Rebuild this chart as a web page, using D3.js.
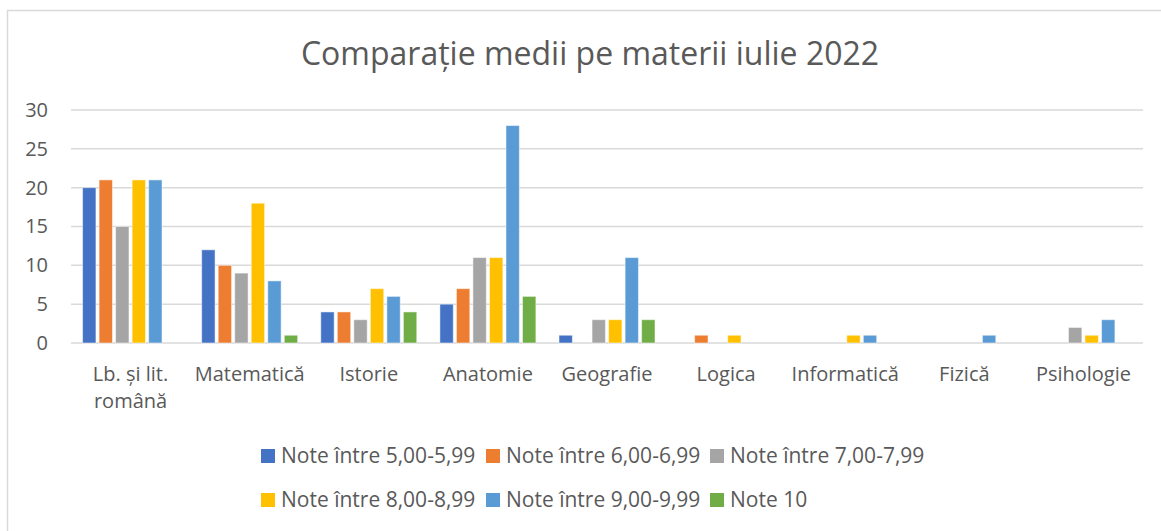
<!DOCTYPE html>
<html>
<head>
<meta charset="utf-8">
<script src="https://cdn.jsdelivr.net/npm/d3@7"></script>
<style>
  body { margin: 0; background: #fff; }
  text { font-family: "Open Sans", sans-serif; fill: #595959; }
</style>
</head>
<body>
<div id="chart"></div>
<script>
const categories = ["Lb. și lit. română", "Matematică", "Istorie", "Anatomie", "Geografie", "Logica", "Informatică", "Fizică", "Psihologie"];
const seriesNames = ["Note între 5,00-5,99", "Note între 6,00-6,99", "Note între 7,00-7,99", "Note între 8,00-8,99", "Note între 9,00-9,99", "Note 10"];
const note5 = [20, 12, 4, 5, 1, 0, 0, 0, 0];
const note6 = [21, 10, 4, 7, 0, 1, 0, 0, 0];
const note7 = [15, 9, 3, 11, 3, 0, 0, 0, 2];
const note8 = [21, 18, 7, 11, 3, 1, 1, 0, 1];
const note9 = [21, 8, 6, 28, 11, 0, 1, 1, 3];
const note10 = [0, 1, 4, 6, 3, 0, 0, 0, 0];
const yTicks = [0, 5, 10, 15, 20, 25, 30];
const colors = ["#4472C4", "#ED7D31", "#A5A5A5", "#FFC000", "#5B9BD5", "#70AD47"];

const allSeries = [note5, note6, note7, note8, note9, note10];
const W = 1161, H = 531;
const plot = { left: 71, right: 1143, top: 110, bottom: 343 };

const svg = d3.select("#chart").append("svg")
  .attr("width", W)
  .attr("height", H);

// chart frame (right and bottom edges fall outside the picture)
svg.append("rect")
  .attr("x", 7.5).attr("y", 10.5)
  .attr("width", 1200).attr("height", 600)
  .attr("fill", "#fff")
  .attr("stroke", "#d9d9d9")
  .attr("stroke-width", 1.5);

svg.append("text")
  .attr("x", 590)
  .attr("y", 65)
  .attr("text-anchor", "middle")
  .style("font-size", "32px")
  .text("Comparație medii pe materii iulie 2022");

const x0 = d3.scaleBand()
  .domain(categories)
  .range([plot.left, plot.right])
  .padding(0);

const x1 = d3.scaleBand()
  .domain(d3.range(seriesNames.length))
  .range([0, x0.bandwidth()])
  .paddingInner(0.19)
  .paddingOuter(0.7);

const y = d3.scaleLinear()
  .domain([0, 30])
  .range([plot.bottom, plot.top]);

// gridlines
svg.append("g")
  .selectAll("line")
  .data(yTicks)
  .join("line")
  .attr("x1", plot.left).attr("x2", plot.right)
  .attr("y1", d => y(d)).attr("y2", d => y(d))
  .attr("stroke", "#d9d9d9")
  .attr("stroke-width", 1.5);

const yAxis = svg.append("g")
  .attr("transform", `translate(${plot.left - 23},0)`)
  .call(d3.axisLeft(y).tickValues(yTicks).tickSize(0).tickPadding(0));
yAxis.select(".domain").remove();
yAxis.selectAll("text")
  .style("font-size", "20px")
  .attr("fill", "#595959")
  .attr("font-family", "Open Sans, sans-serif");

// bars
const rows = categories.map((c, i) => ({ cat: c, vals: allSeries.map(s => s[i]) }));
svg.append("g")
  .selectAll("g")
  .data(rows)
  .join("g")
  .attr("transform", d => `translate(${x0(d.cat)},0)`)
  .selectAll("rect")
  .data(d => d.vals.map((v, k) => ({ k, v })).filter(e => e.v > 0))
  .join("rect")
  .attr("x", d => x1(d.k))
  .attr("width", x1.bandwidth())
  .attr("y", d => y(d.v))
  .attr("height", d => y(0) - y(d.v))
  .attr("fill", d => colors[d.k])
  .attr("stroke", "#fff")
  .attr("stroke-opacity", 0.5)
  .attr("stroke-width", 1);

// category labels
const xAxis = svg.append("g")
  .attr("transform", `translate(0,${plot.bottom})`)
  .call(d3.axisBottom(x0).tickSize(0).tickPadding(0));
xAxis.select(".domain").remove();
xAxis.selectAll("text")
  .style("font-size", "20px")
  .attr("fill", "#595959")
  .attr("font-family", "Open Sans, sans-serif")
  .attr("y", 38)
  .attr("dy", null)
  .each(function (d) { wrap(d3.select(this), x0.bandwidth() - 6); });

function wrap(text, width) {
  const words = text.text().split(/\s+/);
  text.text(null);
  let line = [];
  let tspan = text.append("tspan").attr("x", 0);
  words.forEach(w => {
    line.push(w);
    tspan.text(line.join(" "));
    if (tspan.node().getComputedTextLength() > width && line.length > 1) {
      line.pop();
      tspan.text(line.join(" "));
      line = [w];
      tspan = text.append("tspan").attr("x", 0).attr("dy", "27px").text(w);
    }
  });
}

// legend
const legendRows = [[0, 1, 2], [3, 4, 5]];
const legendX = [261, 486, 710];
const legendY = [463, 507];
legendRows.forEach((row, r) => {
  row.forEach((k, c) => {
    const g = svg.append("g").attr("transform", `translate(${legendX[c]},${legendY[r]})`);
    g.append("rect")
      .attr("x", 0).attr("y", -14)
      .attr("width", 14).attr("height", 14)
      .attr("fill", colors[k]);
    g.append("text")
      .attr("x", 20).attr("y", 0)
      .style("font-size", "21px")
      .text(seriesNames[k]);
  });
});
</script>
</body>
</html>
